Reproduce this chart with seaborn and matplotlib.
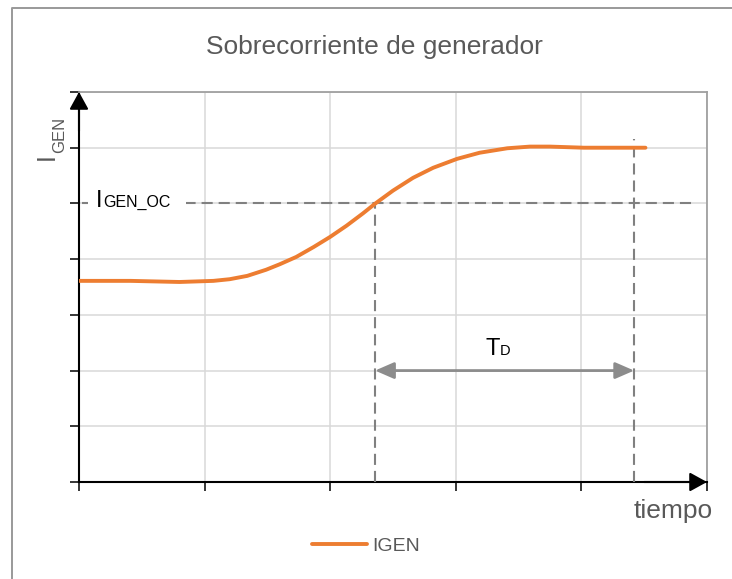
import matplotlib
matplotlib.use("Agg")
import matplotlib.pyplot as plt
from matplotlib.lines import Line2D
import seaborn as sns
import pandas as pd

# ---------------- data ----------------
tiempo = [0.00, 0.41, 0.80, 1.07, 1.20, 1.34, 1.49, 1.60, 1.73, 1.87, 2.00, 2.13, 2.26,
          2.36, 2.50, 2.66, 2.82, 3.01, 3.19, 3.41, 3.59, 3.75, 4.02, 4.28, 4.51]
igen = [3.61, 3.61, 3.59, 3.61, 3.64, 3.70, 3.81, 3.91, 4.04, 4.22, 4.40, 4.60, 4.82,
        5.00, 5.23, 5.46, 5.64, 5.80, 5.91, 5.99, 6.02, 6.02, 6.00, 6.00, 6.00]
I_OC = 5.0          # overcurrent threshold
T_PICKUP = 2.357    # time current crosses threshold
T_TRIP = 4.42       # trip time (end of delay TD)
T_TRIP_TOP = 6.16
OC_LINE_END = 4.88
X_TICKS = [0, 1, 2, 3, 4, 5]
Y_TICKS = [0, 1, 2, 3, 4, 5, 6, 7]

df = pd.DataFrame({"tiempo": tiempo, "IGEN": igen})

sns.set_style("white")
plt.rcParams["font.family"] = ["Liberation Sans", "DejaVu Sans"]
plt.rcParams["lines.scale_dashes"] = False

W, H = 732, 579
fig = plt.figure(figsize=(W / 100, H / 100), dpi=100)
ax = fig.add_axes([79 / W, 1 - 482 / H, (707 - 79) / W, (482 - 92) / H])

ORANGE = "#ED7D31"
GRAY_D = "#808080"
TXT = "#595959"

sns.lineplot(data=df, x="tiempo", y="IGEN", ax=ax, color=ORANGE, lw=2.8,
             sort=False, label="IGEN", legend=False, zorder=6,
             solid_capstyle="round", solid_joinstyle="round")

ax.set_xlim(X_TICKS[0], X_TICKS[-1])
ax.set_ylim(Y_TICKS[0], Y_TICKS[-1])
ax.set_xticks(X_TICKS)
ax.set_yticks(Y_TICKS)
ax.set_xticklabels([])
ax.set_yticklabels([])
ax.set_xlabel("")
ax.set_ylabel("")
ax.grid(True, color="#d9d9d9", lw=1.1)
ax.set_axisbelow(True)
for s in ["left", "bottom"]:
    ax.spines[s].set_color("black")
    ax.spines[s].set_linewidth(1.5)
for s in ["top", "right"]:
    ax.spines[s].set_color("#a0a0a0")
    ax.spines[s].set_linewidth(1.3)
ax.tick_params(axis="both", direction="out", length=6.5, width=1.1, color="black",
               left=True, bottom=True)

# axis arrows
arr = dict(arrowstyle="-|>,head_length=1.0,head_width=0.55", mutation_scale=10.5,
           color="black", lw=1.5, shrinkA=0, shrinkB=0)
ax.annotate("", xy=(0, 1), xytext=(0, 0.9), xycoords="axes fraction",
            arrowprops=arr, annotation_clip=False)
ax.annotate("", xy=(1, 0), xytext=(0.9, 0), xycoords="axes fraction",
            arrowprops=arr, annotation_clip=False)

# dashed reference lines
dash = (0, (8, 4.3))
ax.plot([0.02, OC_LINE_END], [I_OC, I_OC], color=GRAY_D, lw=1.5, ls=dash, zorder=3)
ax.plot([T_PICKUP, T_PICKUP], [0, I_OC], color=GRAY_D, lw=1.5, ls=dash, zorder=3)
ax.plot([T_TRIP, T_TRIP], [0, T_TRIP_TOP], color=GRAY_D, lw=1.5, ls=dash, zorder=3)

# TD double arrow
ax.annotate("", xy=(T_TRIP, 2), xytext=(T_PICKUP, 2), xycoords="data",
            arrowprops=dict(arrowstyle="<|-|>,head_length=1.15,head_width=0.5",
                            mutation_scale=10, color="#8c8c8c", lw=2,
                            shrinkA=0, shrinkB=0), zorder=5)

# labels inside plot
ax.text(0.135, 4.94, "I", fontsize=17, color="black", ha="left", va="baseline", zorder=8)
ax.text(0.195, 4.94, "GEN_OC", fontsize=11.5, color="black", ha="left", va="baseline",
        zorder=7, bbox=dict(facecolor="white", edgecolor="none", pad=11))
ax.text(3.24, 2.28, "T", fontsize=17, color="black", ha="left", va="baseline", zorder=8)
ax.text(3.35, 2.28, "D", fontsize=10.5, color="black", ha="left", va="baseline", zorder=8)

# title & axis labels
fig.text(374 / W, 1 - 54 / H, "Sobrecorriente de generador", fontsize=19, color=TXT,
         ha="center", va="baseline")
fig.text(673 / W, 1 - 518 / H, "tiempo", fontsize=19, color=TXT, ha="center", va="baseline")
fig.text(35 / W, 1 - 160 / H, "I", fontsize=18, color=TXT, rotation=90, ha="left", va="bottom")
fig.text(52 / W, 1 - 153 / H, "GEN", fontsize=12, color=TXT, rotation=90, ha="left", va="bottom")

# legend
handles, labels = ax.get_legend_handles_labels()
fig.legend(handles, labels, loc="center", bbox_to_anchor=(366 / W, 1 - 546 / H),
           frameon=False, fontsize=14, handlelength=2.8, handletextpad=0.25,
           labelcolor=TXT)

# chart area border (left/top visible)
fig.add_artist(Line2D([12 / W, 12 / W, 1.01], [-0.01, 1 - 8 / H, 1 - 8 / H],
                      transform=fig.transFigure, color="#999999", lw=1.4))

fig.savefig("out.png", dpi=100)
